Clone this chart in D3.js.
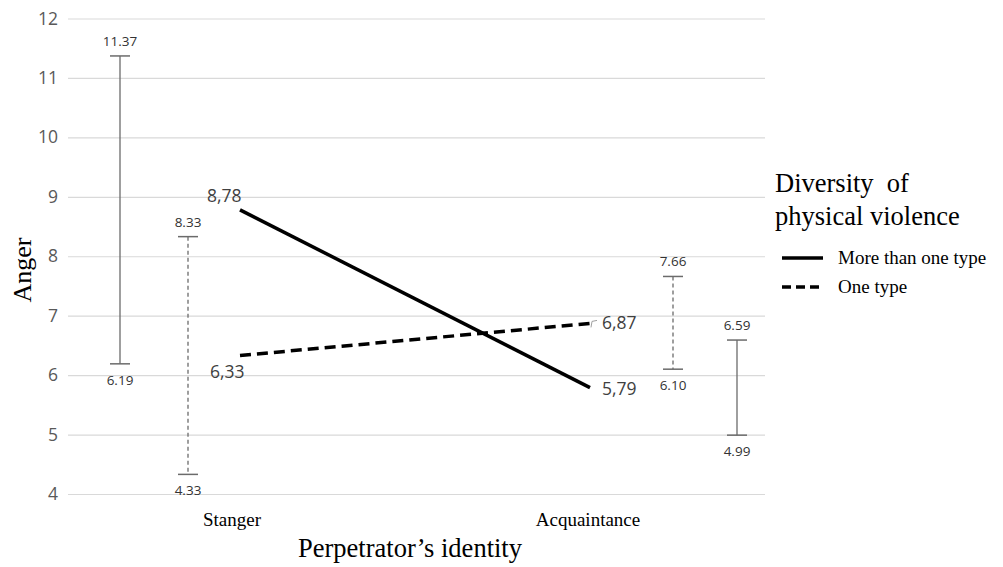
<!DOCTYPE html>
<html><head><meta charset="utf-8">
<script src="https://cdn.jsdelivr.net/npm/d3@7"></script>
<style>body{margin:0;background:#fff}svg{display:block}</style>
</head><body><svg id="c" width="1003" height="567"></svg>
<script>
const categories = ["Stanger", "Acquaintance"];
const seriesNames = ["More than one type", "One type"];
const meansMore = [8.78, 5.79];
const meansOne = [6.33, 6.87];
const meanLabelsMore = ["8,78", "5,79"];
const meanLabelsOne = ["6,33", "6,87"];
const ciMoreLow = [6.19, 4.99];
const ciMoreHigh = [11.37, 6.59];
const ciOneLow = [4.33, 6.10];
const ciOneHigh = [8.33, 7.66];
const yTicks = [4, 5, 6, 7, 8, 9, 10, 11, 12];

const svg = d3.select("#c");
const y = d3.scaleLinear().domain([4, 12]).range([494, 18.5]);
const x = d3.scalePoint().domain(categories).range([240, 590]);
const gridX0 = 68, gridX1 = 765;
const sans = "'Open Sans', 'Noto Sans', sans-serif";
const serif = "'Liberation Serif', 'Times New Roman', serif";

// grid
const yAxis = d3.axisLeft(y).tickValues(yTicks).tickSize(-(gridX1 - gridX0)).tickPadding(10).tickFormat(d3.format("d"));
const ga = svg.append("g").attr("transform", `translate(${gridX0},0)`).call(yAxis);
ga.select(".domain").remove();
ga.selectAll(".tick line").attr("stroke", "#d9d9d9").attr("stroke-width", 1.2);
ga.selectAll(".tick text").attr("fill", "#595959").style("font-family", sans).style("font-size", "17.5px");

// error bars
const ebOffsets = { more: [-120, 147], one: [-52, 83] };
function errBars(lows, highs, offs, dashed) {
  const g = svg.append("g");
  categories.forEach((c, i) => {
    const cx = x(c) + offs[i];
    g.append("line").attr("x1", cx).attr("x2", cx).attr("y1", y(highs[i])).attr("y2", y(lows[i]))
      .attr("stroke", "#6b6b6b").attr("stroke-width", 1.3).attr("stroke-dasharray", dashed ? "4,3" : null);
    [lows[i], highs[i]].forEach(v => {
      g.append("line").attr("x1", cx - 10).attr("x2", cx + 10).attr("y1", y(v)).attr("y2", y(v))
        .attr("stroke", "#6b6b6b").attr("stroke-width", 1.5);
    });
    g.append("text").attr("x", cx).attr("y", y(highs[i]) - 10).attr("text-anchor", "middle")
      .attr("fill", "#333").style("font-family", sans).style("font-size", "13.5px").text(highs[i].toFixed(2));
    g.append("text").attr("x", cx).attr("y", y(lows[i]) + 21).attr("text-anchor", "middle")
      .attr("fill", "#333").style("font-family", sans).style("font-size", "13.5px").text(lows[i].toFixed(2));
  });
}
errBars(ciMoreLow, ciMoreHigh, ebOffsets.more, false);
errBars(ciOneLow, ciOneHigh, ebOffsets.one, true);

// lines
const line = d3.line().x(d => x(d.c)).y(d => y(d.v));
svg.append("path").datum(categories.map((c, i) => ({ c, v: meansMore[i] })))
  .attr("d", line).attr("fill", "none").attr("stroke", "#000").attr("stroke-width", 3.5);
svg.append("path").datum(categories.map((c, i) => ({ c, v: meansOne[i] })))
  .attr("d", line).attr("fill", "none").attr("stroke", "#000").attr("stroke-width", 3.5).attr("stroke-dasharray", "11,6");

// mean labels
const lbl = (tx, ty, t) => svg.append("text").attr("x", tx).attr("y", ty).attr("fill", "#404040")
  .style("font-family", sans).style("font-size", "17.5px").text(t);
lbl(x(categories[0]) - 33, y(meansMore[0]) - 8, meanLabelsMore[0]);
lbl(x(categories[0]) - 30, y(meansOne[0]) + 22, meanLabelsOne[0]);
lbl(x(categories[1]) + 12, y(meansMore[1]) + 7, meanLabelsMore[1]);
lbl(x(categories[1]) + 12, y(meansOne[1]) + 6, meanLabelsOne[1]);
// small leader mark near 6,87
svg.append("path").attr("d", `M${x(categories[1]) + 1},${y(meansOne[1]) + 4} L${x(categories[1]) + 2},${y(meansOne[1]) - 2} L${x(categories[1]) + 7},${y(meansOne[1]) - 3}`)
  .attr("fill", "none").attr("stroke", "#a0a0a0").attr("stroke-width", 1);

// category labels
categories.forEach((c, i) => {
  svg.append("text").attr("x", x(c) + (i === 0 ? -8 : -2)).attr("y", 526).attr("text-anchor", "middle")
    .attr("fill", "#000").style("font-family", serif).style("font-size", "19px").text(c);
});

// axis titles
svg.append("text").attr("x", 410).attr("y", 557).attr("text-anchor", "middle").style("font-family", serif)
  .style("font-size", "26.5px").text("Perpetrator’s identity");
svg.append("text").attr("transform", "translate(31,270) rotate(-90)").attr("text-anchor", "middle")
  .style("font-family", serif).style("font-size", "26px").text("Anger");

// legend
const lg = svg.append("g");
lg.append("text").attr("x", 775).attr("y", 192).style("font-family", serif).style("font-size", "26.5px").attr("xml:space", "preserve").text("Diversity  of");
lg.append("text").attr("x", 775).attr("y", 225).style("font-family", serif).style("font-size", "26.5px").text("physical violence");
seriesNames.forEach((s, i) => {
  const ly = 258 + i * 29;
  lg.append("line").attr("x1", 782).attr("x2", 823).attr("y1", ly).attr("y2", ly).attr("stroke", "#000")
    .attr("stroke-width", 3.5).attr("stroke-dasharray", i === 1 ? "9,5" : null);
  lg.append("text").attr("x", 838).attr("y", ly + 6).style("font-family", serif).style("font-size", "19px").text(s);
});
</script></body></html>
